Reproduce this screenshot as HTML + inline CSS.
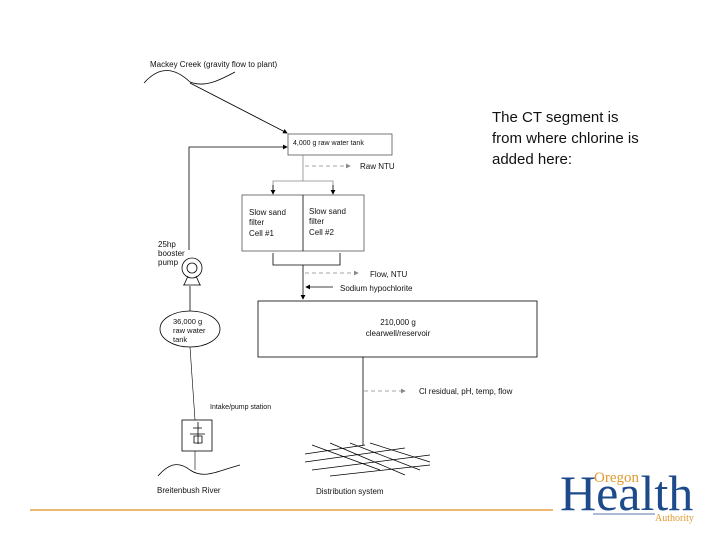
<!DOCTYPE html>
<html><head><style>
body{margin:0;background:#fff;}
svg{display:block;font-family:"Liberation Sans",sans-serif;}
</style></head><body>
<svg width="720" height="540" viewBox="0 0 720 540">
<defs>
<marker id="a" markerWidth="6" markerHeight="6" refX="5" refY="3" orient="auto"><path d="M0,0 L6,3 L0,6z" fill="#000"/></marker>
<marker id="g" markerWidth="6" markerHeight="6" refX="5" refY="3" orient="auto"><path d="M0,0 L6,3 L0,6z" fill="#888"/></marker>
</defs>
<g font-size="8" fill="#111">
<text x="150" y="67">Mackey Creek (gravity flow to plant)</text>
<path d="M144,83 C160,65 175,68 190,82 C205,88 220,80 235,72" fill="none" stroke="#000" stroke-width="0.8"/>
<line x1="190" y1="83" x2="287" y2="133" stroke="#000" stroke-width="0.8" marker-end="url(#a)"/>
<rect x="288" y="134" width="104" height="21" fill="#fff" stroke="#555" stroke-width="0.8"/>
<text x="293" y="145" font-size="7">4,000 g raw water tank</text>
<polyline points="189,250 189,147 287,147" fill="none" stroke="#000" stroke-width="0.8" marker-end="url(#a)"/>
<line x1="303" y1="155" x2="303" y2="181" stroke="#888" stroke-width="0.8"/>
<line x1="305" y1="166" x2="350" y2="166" stroke="#888" stroke-dasharray="4,3" stroke-width="0.8" marker-end="url(#g)"/>
<text x="360" y="169">Raw NTU</text>
<polyline points="273,194 273,181 333,181 333,194" fill="none" stroke="#888" stroke-width="0.8"/>
<line x1="273" y1="185" x2="273" y2="194" stroke="#000" marker-end="url(#a)" stroke-width="0.8"/>
<line x1="333" y1="185" x2="333" y2="194" stroke="#000" marker-end="url(#a)" stroke-width="0.8"/>
<rect x="242" y="195" width="122" height="56" fill="#fff" stroke="#555" stroke-width="0.8"/>
<line x1="303" y1="195" x2="303" y2="251" stroke="#000" stroke-width="0.8"/>
<text x="249" y="215">Slow sand</text><text x="249" y="225">filter</text><text x="249" y="236">Cell #1</text>
<text x="309" y="214">Slow sand</text><text x="309" y="224">filter</text><text x="309" y="235">Cell #2</text>
<polyline points="273,253 273,265 340,265 340,253" fill="none" stroke="#000" stroke-width="0.8"/>
<line x1="303" y1="265" x2="303" y2="299" stroke="#000" stroke-width="0.8" marker-end="url(#a)"/>
<line x1="305" y1="273" x2="358" y2="273" stroke="#888" stroke-dasharray="4,3" stroke-width="0.8" marker-end="url(#g)"/>
<text x="370" y="277">Flow, NTU</text>
<line x1="333" y1="287" x2="306" y2="287" stroke="#000" stroke-width="0.8" marker-end="url(#a)"/>
<text x="340" y="291">Sodium hypochlorite</text>
<rect x="258" y="301" width="279" height="56" fill="#fff" stroke="#000" stroke-width="0.8"/>
<text x="398" y="325" text-anchor="middle">210,000 g</text>
<text x="398" y="336" text-anchor="middle">clearwell/reservoir</text>
<line x1="363" y1="357" x2="363" y2="445" stroke="#000" stroke-width="0.8"/>
<line x1="364" y1="391" x2="405" y2="391" stroke="#888" stroke-dasharray="4,3" stroke-width="0.8" marker-end="url(#g)"/>
<text x="419" y="394">Cl residual, pH, temp, flow</text>
<g stroke="#000" stroke-width="0.7">
<line x1="305" y1="454" x2="365" y2="445"/><line x1="305" y1="462" x2="405" y2="448"/>
<line x1="312" y1="470" x2="430" y2="455"/><line x1="330" y1="476" x2="430" y2="465"/>
<line x1="312" y1="445" x2="380" y2="470"/><line x1="330" y1="443" x2="405" y2="475"/>
<line x1="350" y1="443" x2="420" y2="470"/><line x1="370" y1="443" x2="430" y2="462"/>
</g>
<text x="316" y="494">Distribution system</text>
<text x="158" y="247">25hp</text><text x="158" y="256">booster</text><text x="158" y="265">pump</text>
<circle cx="192" cy="268" r="10" fill="#fff" stroke="#000" stroke-width="0.8"/>
<circle cx="192" cy="268" r="5" fill="none" stroke="#000" stroke-width="0.8"/>
<path d="M184,285 L188,276 M200,285 L196,276 M183,285 L201,285" stroke="#000" stroke-width="0.8" fill="none"/>
<line x1="190" y1="286" x2="190" y2="311" stroke="#000" stroke-width="0.8"/>
<ellipse cx="190" cy="329" rx="30" ry="18" fill="#fff" stroke="#000" stroke-width="0.8"/>
<text x="173" y="324" font-size="7.5">36,000 g</text><text x="173" y="333" font-size="7.5">raw water</text><text x="173" y="342" font-size="7.5">tank</text>
<line x1="190" y1="347" x2="195" y2="420" stroke="#000" stroke-width="0.6"/>
<text x="210" y="409" font-size="7">Intake/pump station</text>
<rect x="182" y="420" width="30" height="31" fill="#fff" stroke="#000" stroke-width="0.8"/>
<path d="M198,422 v22 M193,428 h9 M190,434 h15 M194,436 h8 v7 h-8z" stroke="#000" fill="none" stroke-width="0.8"/>
<line x1="195" y1="451" x2="195" y2="470" stroke="#000" stroke-width="0.6"/>
<path d="M158,476 C170,462 180,462 190,470 C205,480 220,470 240,465" fill="none" stroke="#000" stroke-width="0.8"/>
<text x="157" y="493">Breitenbush River</text>
</g>
<g font-size="15" fill="#111">
<text x="492" y="122">The CT segment is</text>
<text x="492" y="143">from where chlorine is</text>
<text x="492" y="164">added here:</text>
</g>
<line x1="30" y1="510" x2="553" y2="510" stroke="#e8a040" stroke-width="1.5"/>
<text x="560" y="510" font-family="Liberation Serif,serif" font-size="50" fill="#1d4a8a">Health</text>
<text x="594" y="482" font-family="Liberation Serif,serif" font-size="15" fill="#e09a30">Oregon</text>
<text x="655" y="521" font-family="Liberation Serif,serif" font-size="10" fill="#e09a30">Authority</text>
<line x1="593" y1="514" x2="655" y2="514" stroke="#1d4a8a" stroke-width="0.8"/>
</svg>
</body></html>
